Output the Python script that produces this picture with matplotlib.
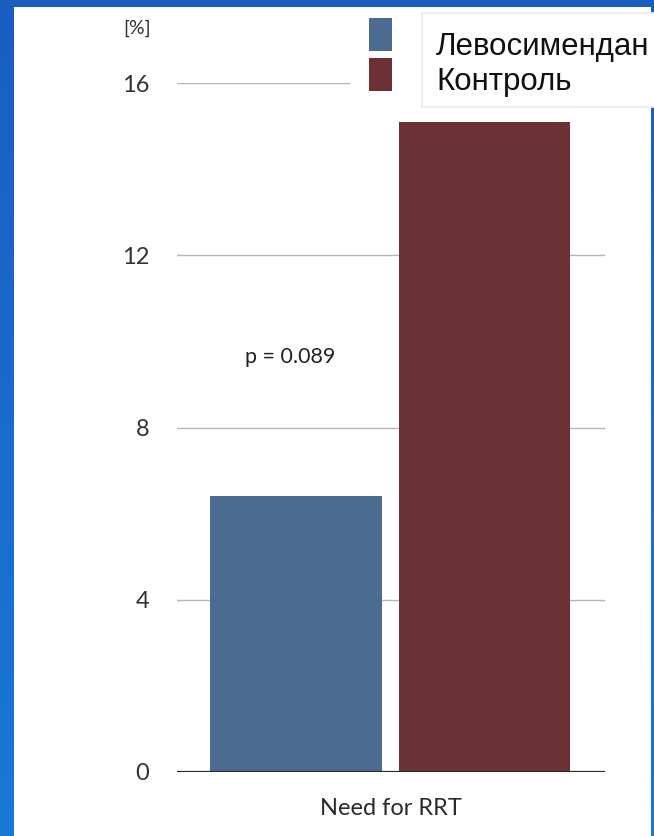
import numpy as np
import matplotlib
matplotlib.use("Agg")
import matplotlib.pyplot as plt
from matplotlib.patches import Rectangle

# данные
categories = ["Need for RRT"]
series_names = ["Левосимендан", "Контроль"]
series_values = [[6.4], [15.1]]
series_colors = ["#4b6b91", "#6c3134"]
y_ticks = [0, 4, 8, 12, 16]
p_label = "p = 0.089"
unit_label = "[%]"

W, H = 654, 836
fig = plt.figure(figsize=(W / 100, H / 100), dpi=100)
fig.patch.set_facecolor("#1b5fc1")

# фон слайда: синяя рамка и белая панель
bg = fig.add_axes([0, 0, 1, 1], zorder=-10)
grad = np.linspace(0, 1, 200).reshape(-1, 1)
bg.imshow(np.dstack([0.10 + 0.0 * grad, 0.37 + 0.10 * grad, 0.76 + 0.08 * grad]),
          extent=[0, W, 0, H], aspect="auto", origin="upper")
bg.add_patch(Rectangle((14, 0), 651 - 14, H - 7, color="white", lw=0))
bg.set_xlim(0, W)
bg.set_ylim(0, H)
bg.axis("off")

font = "Lato"
ax = fig.add_axes([177 / W, (H - 772) / H, 428 / W, (772 - 83) / H])
ax.patch.set_alpha(0)

x = np.arange(len(categories)) + 0.5
offsets = [-0.222, 0.218]
width = 0.40
for vals, off, col in zip(series_values, offsets, series_colors):
    ax.bar(x + off, vals, width, color=col, zorder=3)

for t in y_ticks[1:]:
    ax.axhline(t, color="#b5b5b5", lw=1.0, zorder=1)
ax.axhline(0, color="#2a2a2a", lw=1.6, zorder=4)

ax.set_xlim(0, 1)
ax.set_ylim(0, 16)
ax.set_yticks(y_ticks)
ax.set_yticklabels([str(t) for t in y_ticks], fontsize=17, family=font, color="#333333")
ax.set_xticks(x)
ax.set_xticklabels(categories, fontsize=17, family=font, color="#2a2a2a")
ax.tick_params(axis="y", length=0, pad=20)
ax.tick_params(axis="x", length=0, pad=19)
for s in ax.spines.values():
    s.set_visible(False)

ax.text(0.264, 9.64, p_label, fontsize=15.5, family=font, color="#222222",
        ha="center", va="center")
fig.text(137 / W, 1 - 28 / H, unit_label, fontsize=14, family=font,
         color="#333333", ha="center", va="center")

# легенда поверх графика: квадраты слева, подписи в белой рамке
lg = fig.add_axes([0, 0, 1, 1], zorder=10)
lg.set_xlim(0, W)
lg.set_ylim(0, H)
lg.axis("off")
lg.add_patch(Rectangle((350, H - 108), 80, 100, color="white", lw=0))
lg.add_patch(Rectangle((422, H - 107), 240, 94, facecolor="white",
                       edgecolor="#ececec", lw=1.2))
sq_tops = [18, 58]
text_y = [47, 82]
for name, col, top, ty in zip(series_names, series_colors, sq_tops, text_y):
    lg.add_patch(Rectangle((369, H - top - 33), 23, 33, color=col, lw=0))
    lg.text(436, H - ty, name, fontsize=22.5, family="Liberation Sans",
            color="#111111", ha="left", va="center")

fig.savefig("out.png", dpi=100, facecolor=fig.get_facecolor())
